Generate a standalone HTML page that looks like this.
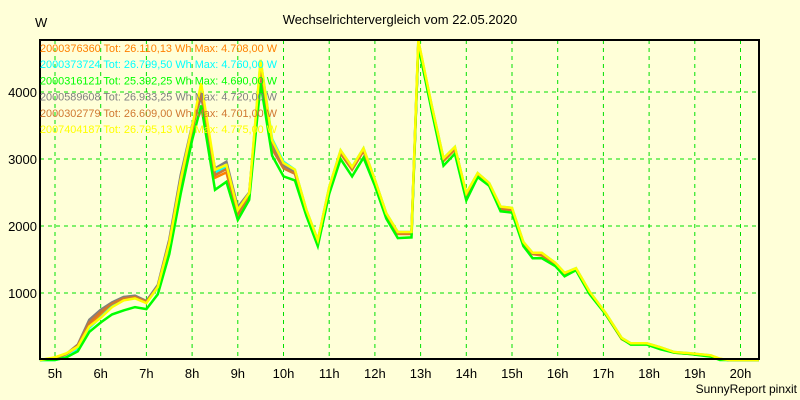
<!DOCTYPE html>
<html><head><meta charset="utf-8">
<style>
body{margin:0;background:#ffffd8;}
svg{display:block;font-family:"Liberation Sans",sans-serif;}
</style></head>
<body>
<svg id="chart" width="800" height="400" viewBox="0 0 800 400">
<rect x="0" y="0" width="800" height="400" fill="#ffffd8"/>
<text x="400" y="24" text-anchor="middle" font-size="13" fill="#000">Wechselrichtervergleich vom 22.05.2020</text>
<text x="35" y="27" font-size="13" fill="#000">W</text>
<text x="797" y="393" text-anchor="end" font-size="12" fill="#000">SunnyReport pinxit</text>
<g id="grid"></g>
<g id="series"></g>
<rect x="40" y="40" width="719" height="319" fill="none" stroke="#000" stroke-width="2"/>
<g id="axes"></g>
<g id="legend"></g>
</svg>
<script>
const times = [4.67,5.0,5.25,5.5,5.75,6.0,6.25,6.5,6.75,7.0,7.25,7.5,7.75,8.0,8.2,8.5,8.75,9.0,9.25,9.5,9.75,10.0,10.25,10.5,10.75,11.0,11.25,11.5,11.75,12.0,12.25,12.5,12.8,12.95,13.25,13.5,13.75,14.0,14.25,14.5,14.75,15.0,15.25,15.45,15.65,15.95,16.15,16.4,16.7,17.05,17.4,17.6,17.95,18.25,18.55,18.9,19.35,19.55,19.75,20.4];
const orangeValues = [0,20,90,200,520,680,820,910,940,860,1080,1720,2640,3420,4000,2720,2800,2150,2420,4400,3200,2880,2790,2200,1760,2550,3080,2840,3120,2660,2160,1880,1880,4708,3730,2970,3140,2450,2750,2600,2250,2240,1720,1580,1560,1420,1280,1350,1000,680,310,240,240,180,110,90,60,10,0,0];
const cyanValues = [0,0,40,150,480,640,800,900,930,860,1080,1740,2680,3470,4100,2800,2880,2220,2470,4470,3300,2960,2840,2240,1790,2580,3130,2880,3160,2690,2190,1910,1910,4760,3780,3010,3180,2490,2790,2640,2290,2270,1760,1600,1600,1450,1300,1370,1020,700,330,250,250,190,120,100,70,10,0,0];
const greenValues = [0,0,40,130,420,560,680,740,790,760,980,1580,2480,3280,3800,2540,2660,2090,2390,4130,3050,2740,2680,2150,1700,2480,3000,2740,3020,2600,2110,1820,1830,4690,3700,2900,3080,2380,2730,2600,2220,2200,1700,1520,1520,1400,1250,1340,980,680,320,230,230,160,110,90,50,0,0,0];
const grayValues = [0,30,90,230,600,750,860,940,960,880,1120,1800,2760,3500,3930,2860,2960,2280,2500,4300,3250,2900,2800,2220,1780,2560,3100,2860,3140,2680,2180,1900,1900,4720,3750,2990,3160,2470,2770,2620,2270,2250,1740,1590,1590,1440,1290,1360,1010,690,320,240,240,180,115,95,65,15,0,0];
const brownValues = [0,30,90,220,560,720,840,920,940,870,1090,1760,2680,3450,3990,2760,2850,2180,2450,4350,3150,2860,2780,2190,1760,2550,3090,2850,3130,2660,2160,1890,1890,4701,3740,2980,3150,2460,2760,2610,2260,2240,1730,1590,1570,1430,1290,1360,1010,690,320,245,245,185,115,95,65,15,0,0];
const yellowValues = [0,40,100,200,500,630,790,890,920,850,1090,1750,2690,3480,4130,2840,2910,2240,2490,4480,3280,2940,2840,2240,1790,2580,3130,2880,3160,2690,2190,1910,1910,4775,3780,3010,3180,2490,2790,2640,2290,2270,1760,1600,1600,1450,1300,1370,1020,700,330,250,250,190,120,100,70,20,0,0];
const legendLabels = ["2000376360 Tot: 26.110,13 Wh Max: 4.708,00 W","2000373724 Tot: 26.799,50 Wh Max: 4.760,00 W","2000316121 Tot: 25.392,25 Wh Max: 4.690,00 W","2000589608 Tot: 26.933,25 Wh Max: 4.720,00 W","2000302779 Tot: 26.609,00 Wh Max: 4.701,00 W","2007404187 Tot: 26.795,13 Wh Max: 4.775,00 W"];
const xTicks = [5,6,7,8,9,10,11,12,13,14,15,16,17,18,19,20];
const yTicks = [1000,2000,3000,4000];

const NS = "http://www.w3.org/2000/svg";
const xs = h => 55 + (h - 5) * 45.7;
const ys = v => 360 - v * 0.067;
function mk(tag, attrs, parent){ const e=document.createElementNS(NS,tag); for(const k in attrs) e.setAttribute(k,attrs[k]); parent.appendChild(e); return e; }

const grid = document.getElementById('grid');
const axes = document.getElementById('axes');
xTicks.forEach(h=>{
  const l = mk('line',{x1:xs(h),x2:xs(h),y1:40,y2:359,stroke:'#00e000','stroke-dasharray':'4,4','stroke-width':1},grid);
  
  
  const t = mk('text',{x:xs(h),y:378,'text-anchor':'middle','font-size':13,fill:'#000'},axes);
  t.textContent = h+'h';
  
  
});
yTicks.forEach(v=>{
  const l = mk('line',{x1:40,x2:759,y1:ys(v),y2:ys(v),stroke:'#00e000','stroke-dasharray':'4,4','stroke-width':1},grid);
  
  
  const t = mk('text',{x:37,y:ys(v)+5,'text-anchor':'end','font-size':13,fill:'#000'},axes);
  t.textContent = v;
  
  
});

const seriesDefs = [
  {vals:orangeValues,color:'#ff8000'},
  {vals:cyanValues,color:'#00ffff'},
  {vals:greenValues,color:'#00ff00'},
  {vals:grayValues,color:'#808080'},
  {vals:brownValues,color:'#d07830'},
  {vals:yellowValues,color:'#ffff00'}
];
const sg = document.getElementById('series');
const lg = document.getElementById('legend');
const drawOrder = [0,1,3,4,2,5];
drawOrder.forEach(i=>{
  const s = seriesDefs[i];
  const pts = times.map((t,j)=>xs(t).toFixed(1)+','+ys(s.vals[j]).toFixed(1)).join(' ');
  const p = mk('polyline',{points:pts,fill:'none',stroke:s.color,'stroke-width':2.5,'stroke-linejoin':'miter'},sg);
  
  
});
seriesDefs.forEach((s,i)=>{
  const t = mk('text',{x:40,y:52+i*16.2,'font-size':11,fill:s.color,textLength:237,lengthAdjust:'spacingAndGlyphs'},lg);
  t.textContent = legendLabels[i];
  
  
});
</script>
</body></html>
